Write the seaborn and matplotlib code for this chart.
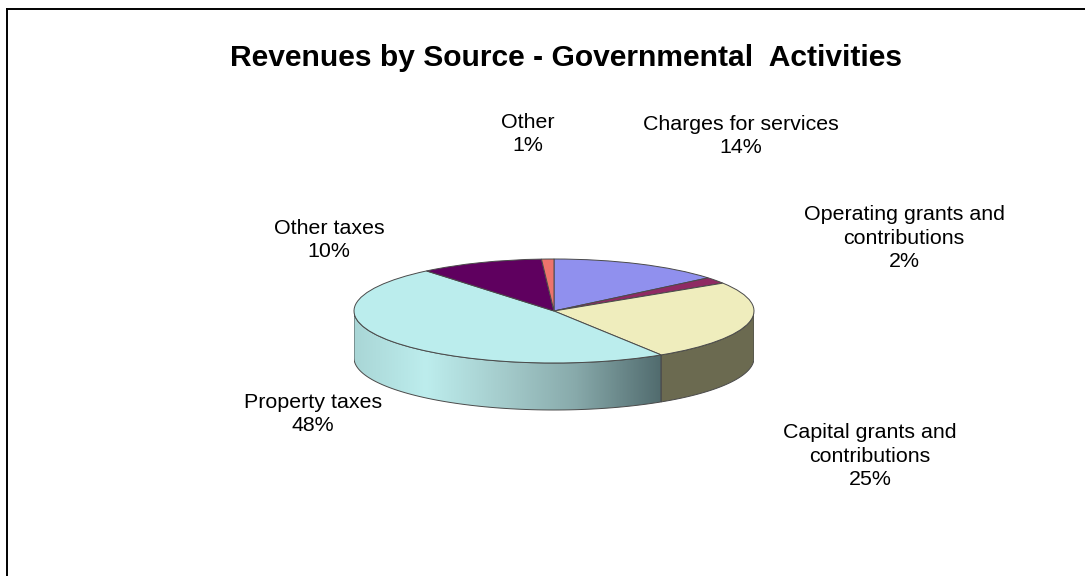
import numpy as np
import seaborn as sns
import matplotlib.pyplot as plt
from matplotlib.colors import LinearSegmentedColormap
from matplotlib.patches import Polygon

# slices, clockwise from 12 o'clock
names = ["Charges for services", "Operating grants and\ncontributions",
         "Capital grants and\ncontributions", "Property taxes", "Other taxes", "Other"]
shares = [14, 2, 25, 48, 10, 1]
title = "Revenues by Source - Governmental  Activities"

sns.set_theme(style="white")
plt.rcParams['font.family'] = ['Liberation Sans', 'DejaVu Sans']

top_colors = sns.color_palette(["#9090EE", "#8F2A63", "#EFEDBD", "#BBEDED", "#5F005F", "#EE736C"])
capital_side = "#6B6A50"
edge = "#4A4A4A"

W, H = 1085, 576
fig = plt.figure(figsize=(W / 100, H / 100), dpi=100, facecolor="white")

# the frame only shows on top and left
bg = fig.add_axes([7 / W, 0, 1 - 7 / W, 1 - 8.5 / H])
bg.set_xticks([])
bg.set_yticks([])
for side in ["right", "bottom"]:
    bg.spines[side].set_visible(False)
for side in ["top", "left"]:
    bg.spines[side].set_color("black")
    bg.spines[side].set_linewidth(1.4)

# y unit = 52px, x unit = 200px, so the pie comes out flattened
depth = 47 / 52
left, right, y_top, y_bottom = 354, 754, 259, 415
ax = fig.add_axes([left / W, 1 - y_bottom / H, (right - left) / W, (y_bottom - y_top) / H])
ax.patch.set_alpha(0)

wedges, _ = ax.pie(shares, colors=top_colors, startangle=90, counterclock=False,
                   wedgeprops={"edgecolor": edge, "linewidth": 0.7, "zorder": 3})
ax.set_aspect("auto")


def side_polygon(wedge, color):
    # front wall of one slice, only the part below the horizontal axis
    t1, t2 = max(wedge.theta1, -180), min(wedge.theta2, 0)
    if t2 <= t1:
        return None
    t = np.radians(np.linspace(t1, t2, 80))
    x, y = np.cos(t), np.sin(t)
    pts = np.r_[np.c_[x, y], np.c_[x[::-1], y[::-1] - depth]]
    poly = Polygon(pts, closed=True, facecolor=color, edgecolor=edge, linewidth=0.7, zorder=2)
    ax.add_patch(poly)
    return poly


side_polygon(wedges[2], capital_side)
prop_side = side_polygon(wedges[3], "none")

shade = LinearSegmentedColormap.from_list("shade", [
    (0.0, "#A9D6D6"), (0.23, "#BDEDED"), (0.49, "#A3CACA"), (0.71, "#88AAAB"), (1.0, "#4E686B")])
grad = np.linspace(0, 1, 256).reshape(1, -1)
img = ax.imshow(grad, cmap=shade, aspect="auto", extent=(-1, 0.56, -2, 0), zorder=1.5)
img.set_clip_path(prop_side)

ax.set_xlim(-1, 1)
ax.set_ylim(1 - (y_bottom - y_top) / 52, 1)
ax.axis("off")

fig.text(566 / W, 1 - 58 / H, title, fontsize=21.6, fontweight="bold", color="black",
         ha="center", va="center")

# label centres in pixels
label_x = [741, 904, 870, 313, 329, 528]
label_y = [136, 238, 456, 414, 240, 134]
for name, share, lx, ly in zip(names, shares, label_x, label_y):
    fig.text(lx / W, 1 - ly / H, f"{name}\n{share}%", fontsize=15.4, color="black",
             ha="center", va="center", linespacing=1.33)

fig.savefig("out.png", dpi=100)
